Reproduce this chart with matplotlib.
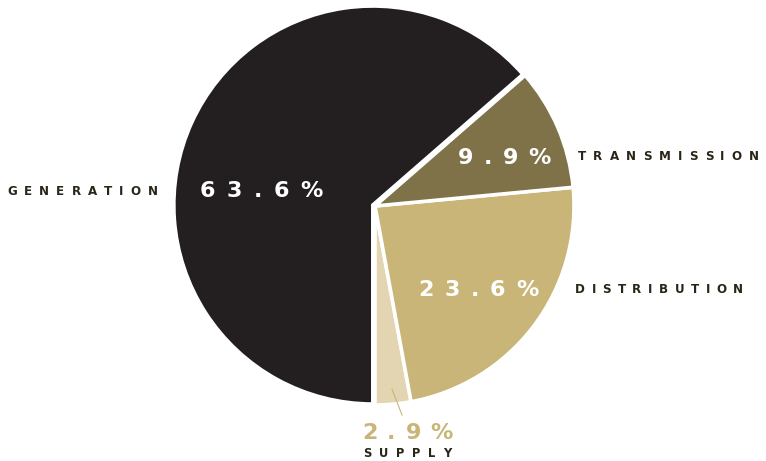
import matplotlib
matplotlib.use("Agg")
import matplotlib.pyplot as plt

# данные диаграммы (порядок против часовой стрелки, начиная снизу)
segments = ["SUPPLY", "DISTRIBUTION", "TRANSMISSION", "GENERATION"]
shares = [2.9, 23.6, 9.9, 63.6]
colors = ["#E3D5B1", "#C9B577", "#7F7249", "#231F20"]
pct_labels = ["2.9%", "23.6%", "9.9%", "63.6%"]

W, H = 766, 461
fig = plt.figure(figsize=(W / 100, H / 100), dpi=100)
fig.patch.set_facecolor("white")

# центр и радиус круга в пикселях
cx, cy, r = 375, 206, 199
ax = fig.add_axes([(cx - r) / W, (H - cy - r) / H, 2 * r / W, 2 * r / H])
ax.pie(shares, colors=colors, startangle=270, counterclock=True,
       explode=[0, 0, 0, 0.012],
       wedgeprops=dict(edgecolor="white", linewidth=2.6))
ax.set_xlim(-1, 1)
ax.set_ylim(-1, 1)
ax.axis("off")

renderer = fig.canvas.get_renderer()


def spaced(s, x0, x1, yc, size, color, weight="bold"):
    """Пишет текст с разрядкой между x0 и x1 (пиксели), yc - середина заглавных"""
    texts = [fig.text(0, 0, c, fontsize=size, color=color, fontweight=weight,
                      ha="left", va="baseline") for c in s]
    widths = [t.get_window_extent(renderer).width for t in texts]
    gap = (x1 - x0 - sum(widths)) / (len(s) - 1)
    base = yc + 0.73 * size * 100 / 72 / 2
    x = x0
    for t, w in zip(texts, widths):
        t.set_position((x / W, 1 - base / H))
        x += w + gap


dark = "#2A2419"
gold = "#C9B577"

# подписи сегментов
spaced(segments[3], 7, 158, 191, 8.6, dark)
spaced(segments[2], 578, 759, 155.5, 8.6, dark)
spaced(segments[1], 575, 743, 289, 8.6, dark)
spaced(segments[0], 363, 451, 453, 8.3, dark)

# проценты
spaced(pct_labels[3], 200, 323, 189, 16, "white")
spaced(pct_labels[2], 458, 551, 155.5, 16, "white")
spaced(pct_labels[1], 418, 539, 287.5, 16, "white")
spaced(pct_labels[0], 362, 453, 431, 16, gold)

# выноска для SUPPLY
fig.add_artist(plt.Line2D([392 / W, 402 / W], [1 - 389 / H, 1 - 415 / H],
                          color=gold, linewidth=0.8))

fig.savefig("out.png", dpi=100)
